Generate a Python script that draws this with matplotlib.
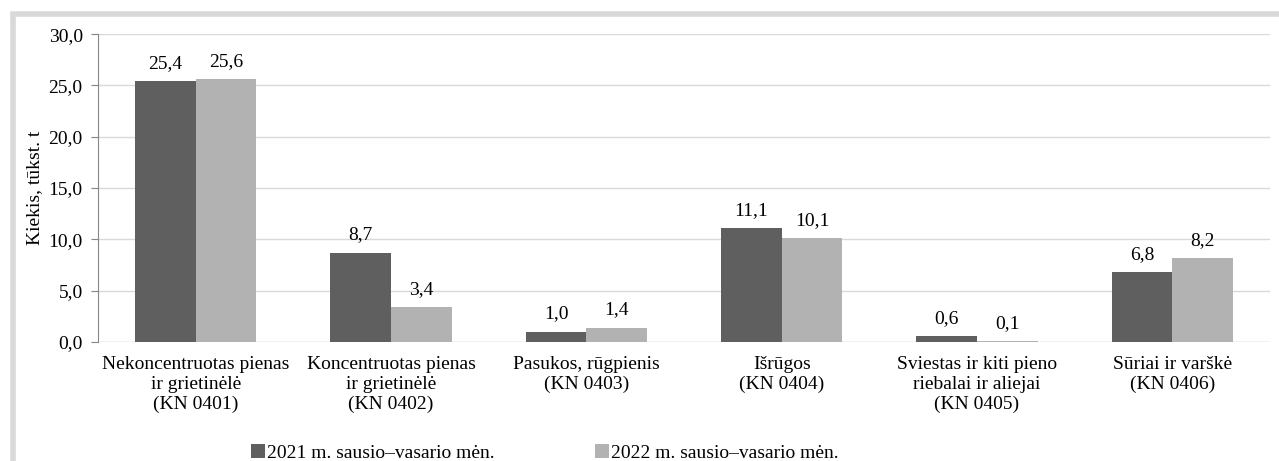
import numpy as np
import matplotlib
matplotlib.use("Agg")
import matplotlib.pyplot as plt
from matplotlib.patches import Rectangle

plt.rcParams['font.family'] = ['Liberation Serif', 'DejaVu Serif']

categories = ["Nekoncentruotas pienas\nir grietinėlė\n(KN 0401)",
              "Koncentruotas pienas\nir grietinėlė\n(KN 0402)",
              "Pasukos, rūgpienis\n(KN 0403)",
              "Išrūgos\n(KN 0404)",
              "Sviestas ir kiti pieno\nriebalai ir aliejai\n(KN 0405)",
              "Sūriai ir varškė\n(KN 0406)"]
vals_2021 = [25.4, 8.7, 1.0, 11.1, 0.6, 6.8]
vals_2022 = [25.6, 3.4, 1.4, 10.1, 0.1, 8.2]
series_names = ["2021 m. sausio–vasario mėn.", "2022 m. sausio–vasario mėn."]

fs = 14

fig = plt.figure(figsize=(12.79, 4.61), dpi=100)
ax = fig.add_axes([0.0766, 0.258, 0.9164, 0.668])

# light grey frame round the chart
fig.patches.append(Rectangle((12.5 / 1279, -0.1), 1.2, 1 - 13.5 / 461 + 0.1,
                             transform=fig.transFigure, fill=False,
                             edgecolor="#d9d9d9", linewidth=4, zorder=0))

x = np.arange(len(categories))
w = 0.31
b1 = ax.bar(x - w / 2, vals_2021, w, color="#5f5f5f", label=series_names[0], zorder=3)
b2 = ax.bar(x + w / 2, vals_2022, w, color="#b2b2b2", label=series_names[1], zorder=3)

def fmt(v):
    return f"{v:.1f}".replace(".", ",")

for bars, vals in [(b1, vals_2021), (b2, vals_2022)]:
    for r, v in zip(bars, vals):
        ax.text(r.get_x() + r.get_width() / 2, v + 0.9, fmt(v), ha="center", va="bottom", fontsize=fs)

ax.set_ylim(0, 30)
ax.set_xlim(-0.5, len(categories) - 0.5)
yt = np.arange(0, 30.1, 5)
ax.set_yticks(yt)
ax.set_yticklabels([fmt(v) for v in yt], fontsize=fs)
ax.set_xticks(x)
ax.set_xticklabels(categories, fontsize=fs, linespacing=1.2)
ax.tick_params(axis="x", length=0, pad=10)
ax.tick_params(axis="y", length=5, color="#868686", pad=6)
ax.grid(axis="y", color="#d9d9d9", linewidth=1, zorder=0)
for s in ["top", "right", "bottom"]:
    ax.spines[s].set_visible(False)
ax.spines["left"].set_color("#868686")
ax.axhline(0, color="#d9d9d9", linewidth=1, zorder=1)
ax.set_ylabel("Kiekis, tūkst. t", fontsize=fs, labelpad=4)

fig.legend(loc="lower center", bbox_to_anchor=(0.426, -0.04), ncol=2, frameon=False,
           fontsize=fs, handlelength=0.7, handleheight=0.7, handletextpad=0.1,
           columnspacing=5.2)

fig.savefig("out.png", dpi=100)
